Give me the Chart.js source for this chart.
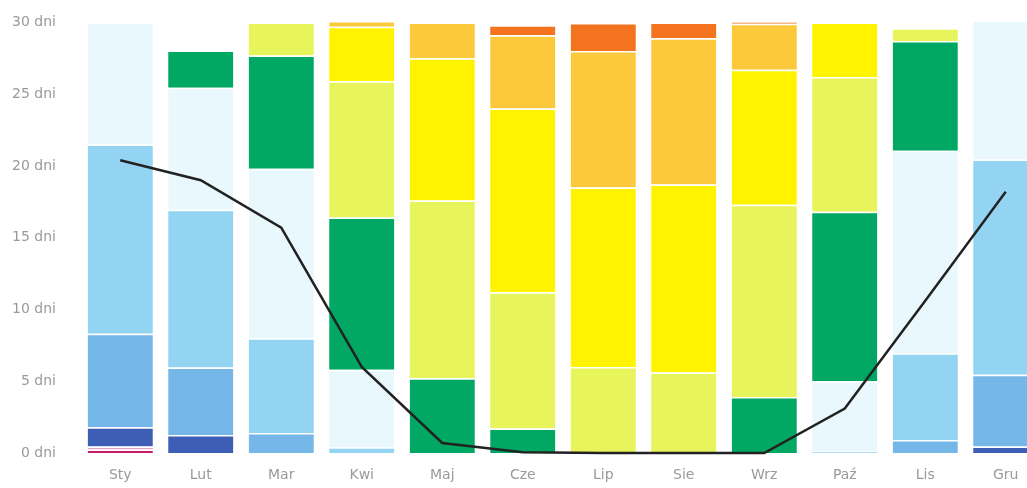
<!DOCTYPE html>
<html>
<head>
<meta charset="utf-8">
<script src="https://cdn.jsdelivr.net/npm/chart.js@4/dist/chart.umd.min.js"></script>
<style>
  html, body { margin: 0; padding: 0; background: #fff; overflow: hidden; }
  #wrap { width: 1046px; height: 488px; overflow: hidden; }
  #c { display: block; margin-top: -10px; }
</style>
</head>
<body>
<div id="wrap"><canvas id="c" width="1046" height="498"></canvas></div>
<script>
// Categories (months, Polish)
const months = ['Sty', 'Lut', 'Mar', 'Kwi', 'Maj', 'Cze', 'Lip', 'Sie', 'Wrz', 'Paź', 'Lis', 'Gru'];

// Days per month in each maximum-temperature class (coldest first)
const crimsonDays     = [0.25, 0,    0,    0,    0,    0,    0,    0,    0,    0,    0,    0];
const pinkDays        = [0.2,  0,    0,    0,    0,    0,    0,    0,    0,    0,    0,    0];
const darkBlueDays    = [1.35, 1.25, 0,    0,    0,    0,    0,    0,    0,    0,    0,    0.45];
const midBlueDays     = [6.5,  4.7,  1.4,  0,    0,    0,    0,    0,    0,    0,    0.9,  5.0];
const lightBlueDays   = [13.2, 11.0, 6.6,  0.4,  0,    0,    0,    0,    0,    0.1,  6.05, 15.0];
const paleCyanDays    = [8.5,  8.5,  11.8, 5.4,  0,    0,    0,    0,    0,    4.9,  14.1, 9.7];
const greenDays       = [0,    2.6,  7.9,  10.6, 5.2,  1.7,  0,    0,    3.9,  11.8, 7.65, 0];
const yellowGreenDays = [0,    0,    2.3,  9.5,  12.4, 9.5,  6.0,  5.6,  13.4, 9.4,  0.9,  0];
const yellowDays      = [0,    0,    0,    3.8,  9.9,  12.8, 12.5, 13.1, 9.4,  3.8,  0,    0];
const lightOrangeDays = [0,    0,    0,    0.4,  2.5,  5.1,  9.5,  10.2, 3.2,  0,    0,    0];
const orangeDays      = [0,    0,    0,    0,    0,    0.7,  1.95, 1.1,  0.15, 0,    0,    0];

// Line series (days)
const lineDays = [20.4, 19.0, 15.7, 6.0, 0.7, 0.05, 0, 0, 0, 3.1, 10.6, 18.2];

// Y tick values
const yTicks = [0, 5, 10, 15, 20, 25, 30];

const classSeries = [
  { data: crimsonDays,     color: '#c8186c' },
  { data: pinkDays,        color: '#e6a2c6' },
  { data: darkBlueDays,    color: '#3e5db4' },
  { data: midBlueDays,     color: '#76b7e9' },
  { data: lightBlueDays,   color: '#94d4f3' },
  { data: paleCyanDays,    color: '#e8f8fc' },
  { data: greenDays,       color: '#00a863' },
  { data: yellowGreenDays, color: '#e8f45c' },
  { data: yellowDays,      color: '#fff300' },
  { data: lightOrangeDays, color: '#fcc83c' },
  { data: orangeDays,      color: '#f3731f' }
];

const datasets = [
  {
    type: 'line',
    data: lineDays,
    borderColor: '#222222',
    borderWidth: 2.5,
    pointRadius: 0,
    tension: 0,
    fill: false,
    stack: 'line',
    order: 0,
    clip: false
  }
].concat(classSeries.map(s => ({
  type: 'bar',
  data: s.data,
  backgroundColor: s.color,
  borderColor: '#ffffff',
  borderWidth: { top: 1.5, left: 0, right: 0, bottom: 0 },
  borderSkipped: 'start',
  stack: 'days',
  order: 1,
  categoryPercentage: 1,
  barPercentage: 0.81,
  clip: false
})));

new Chart(document.getElementById('c'), {
  type: 'bar',
  data: { labels: months, datasets: datasets },
  options: {
    responsive: false,
    animation: false,
    layout: { padding: { top: 12, right: 0, left: 0, bottom: 0 } },
    plugins: { legend: { display: false }, tooltip: { enabled: false } },
    scales: {
      x: {
        stacked: true,
        grid: { display: false, drawTicks: false },
        border: { display: false },
        ticks: { color: '#9a9a9a', font: { family: 'DejaVu Sans', size: 14 }, padding: 14 },
        afterFit: s => { s.height = 35; }
      },
      y: {
        stacked: true,
        min: 0,
        max: 30,
        grid: { display: false, drawTicks: false },
        border: { display: false },
        afterBuildTicks: s => { s.ticks = yTicks.map(v => ({ value: v })); },
        ticks: {
          color: '#9a9a9a',
          font: { family: 'DejaVu Sans', size: 14 },
          padding: 24,
          callback: v => v + ' dni'
        },
        afterFit: s => { s.width = 80; }
      }
    }
  }
});
</script>
</body>
</html>
